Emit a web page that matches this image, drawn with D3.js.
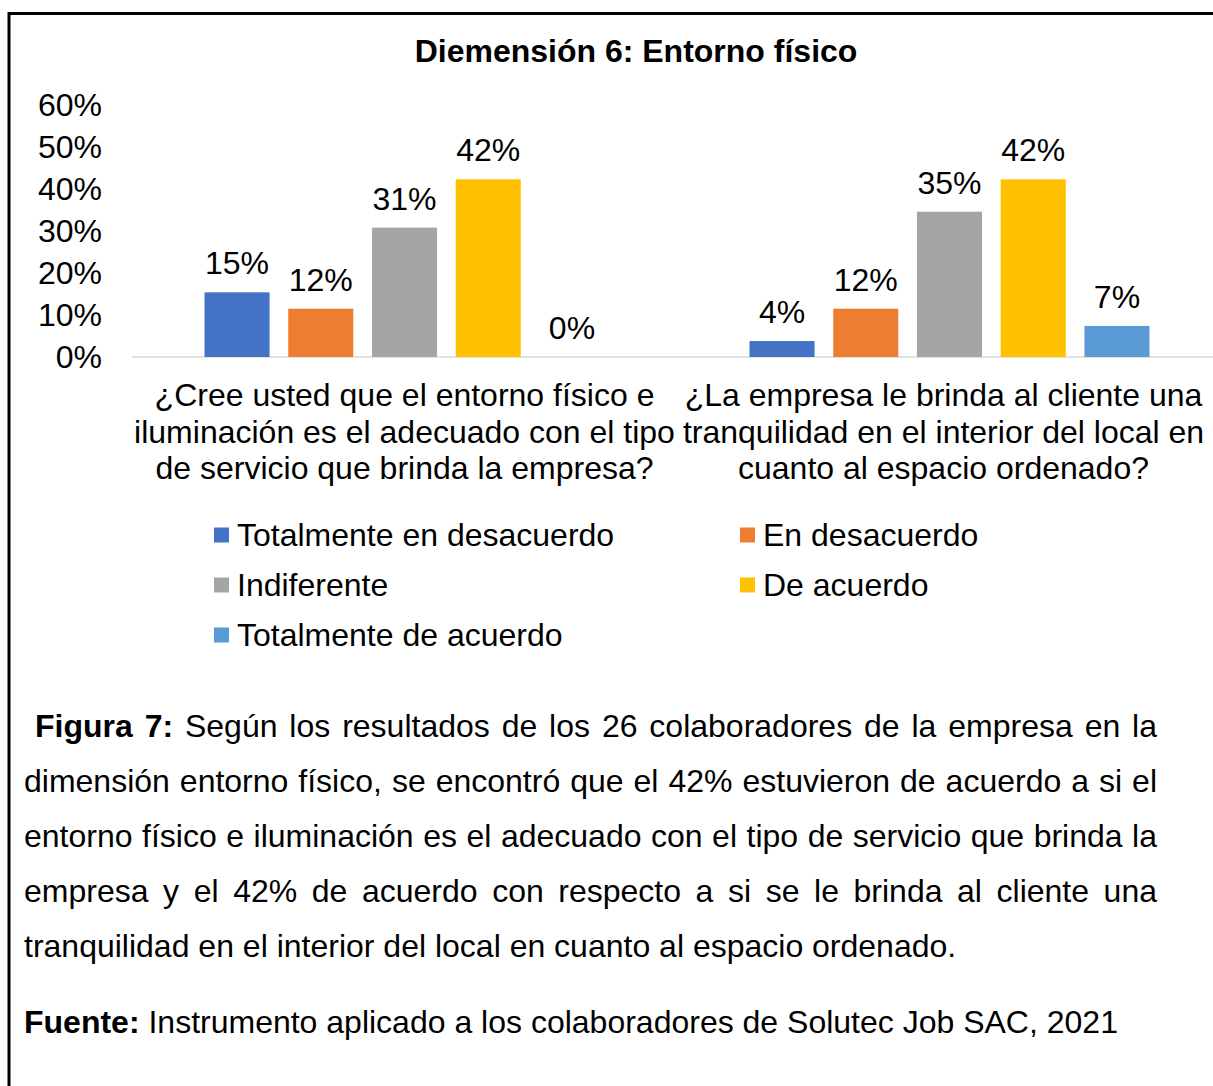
<!DOCTYPE html>
<html>
<head>
<meta charset="utf-8">
<script src="https://cdn.jsdelivr.net/npm/d3@7"></script>
<style>
  html, body { margin: 0; padding: 0; background: #fff; }
  svg { display: block; font-family: "Liberation Sans", Arial, sans-serif; }
</style>
</head>
<body>
<div id="chart"></div>
<script>
const title = 'Diemensión 6: Entorno físico'
const categories = [
  ['¿Cree usted que el entorno físico e', 'iluminación es el adecuado con el tipo', 'de servicio que brinda la empresa?'],
  ['¿La empresa le brinda al cliente una', 'tranquilidad en el interior del local en', 'cuanto al espacio ordenado?']
]
const series = ['Totalmente en desacuerdo', 'En desacuerdo', 'Indiferente', 'De acuerdo', 'Totalmente de acuerdo']
const colors = ['#4472C4', '#ED7D31', '#A5A5A5', '#FFC000', '#5B9BD5']
const q1Values = [0.154, 0.115, 0.308, 0.423, 0]
const q2Values = [0.038, 0.115, 0.346, 0.423, 0.074]
const yTicks = [0, 0.1, 0.2, 0.3, 0.4, 0.5, 0.6]
const captionLines = [
  [['Figura 7:', true], ['Según los resultados de los 26 colaboradores de la empresa en la', false]],
  [['dimensión entorno físico, se encontró que el 42% estuvieron de acuerdo a si el', false]],
  [['entorno físico e iluminación es el adecuado con el tipo de servicio que brinda la', false]],
  [['empresa y el 42% de acuerdo con respecto a si se le brinda al cliente una', false]],
  [['tranquilidad en el interior del local en cuanto al espacio ordenado.', false]]
]
const source = [['Fuente:', true], [' Instrumento aplicado a los colaboradores de Solutec Job SAC, 2021', false]]

const W = 1213, H = 1086
const fs = 32

const svg = d3.select('#chart').append('svg')
  .attr('width', W).attr('height', H)

// frame
svg.append('rect')
  .attr('x', 9).attr('y', 13.5)
  .attr('width', W + 20).attr('height', H + 20)
  .attr('fill', 'none').attr('stroke', '#000').attr('stroke-width', 3)

svg.append('text')
  .attr('x', 636).attr('y', 62)
  .attr('text-anchor', 'middle')
  .attr('font-weight', 'bold').attr('font-size', fs)
  .text(title)

const data = categories.map((c, i) => ({ cat: i, values: i === 0 ? q1Values : q2Values }))

const x0 = d3.scaleBand().domain(d3.range(categories.length)).range([132, 1222])
const x1 = d3.scaleBand().domain(d3.range(series.length))
  .range([72.5, 472.5]).paddingInner(0.223).paddingOuter(0)
const y = d3.scaleLinear().domain([0, 0.6]).range([357, 105])

// y labels
svg.append('g').selectAll('text')
  .data(yTicks).enter().append('text')
    .attr('x', 102).attr('y', d => y(d))
    .attr('dy', '0.35em')
    .attr('text-anchor', 'end').attr('font-size', fs)
    .text(d3.format('.0%'))

// baseline
svg.append('line')
  .attr('x1', 132).attr('x2', W).attr('y1', y(0)).attr('y2', y(0))
  .attr('stroke', '#d9d9d9').attr('stroke-width', 1.5)

const groups = svg.append('g').selectAll('g')
  .data(data).enter().append('g')
    .attr('transform', d => `translate(${x0(d.cat)},0)`)

groups.selectAll('rect')
  .data(d => d.values).enter().append('rect')
    .attr('x', (d, i) => x1(i))
    .attr('width', x1.bandwidth())
    .attr('y', d => y(d))
    .attr('height', d => y(0) - y(d))
    .attr('fill', (d, i) => colors[i])

groups.selectAll('text.val')
  .data(d => d.values).enter().append('text')
    .attr('class', 'val')
    .attr('x', (d, i) => x1(i) + x1.bandwidth() / 2)
    .attr('y', d => y(d) - 18)
    .attr('text-anchor', 'middle').attr('font-size', fs)
    .text(d3.format('.0%'))

// category labels
svg.append('g').selectAll('text')
  .data(categories).enter().append('text')
    .attr('text-anchor', 'middle').attr('font-size', fs)
    .each(function (lines, i) {
      d3.select(this).selectAll('tspan')
        .data(lines).enter().append('tspan')
          .attr('x', x0(i) + x0.bandwidth() / 2 - (i === 0 ? 0 : 6))
          .attr('y', (l, j) => 406 + j * 36.5)
          .text(l => l)
    })

// legend
const legend = svg.append('g').selectAll('g')
  .data(series).enter().append('g')
    .attr('transform', (d, i) => `translate(${i % 2 === 0 ? 214 : 740},${535 + Math.floor(i / 2) * 50})`)
legend.append('rect')
  .attr('x', 0).attr('y', -7.5).attr('width', 15).attr('height', 15)
  .attr('fill', (d, i) => colors[i])
legend.append('text')
  .attr('x', 23).attr('dy', '0.35em').attr('font-size', fs)
  .text(d => d)

// caption, justified lines
const capLeft = 24, capRight = 1157
captionLines.forEach((segs, li) => {
  const baseY = 737 + li * 55
  const last = li === captionLines.length - 1
  if (last) {
    const t = svg.append('text').attr('x', capLeft).attr('y', baseY).attr('font-size', fs)
    segs.forEach(s => t.append('tspan').attr('font-weight', s[1] ? 'bold' : null).text(s[0]))
    return
  }
  const words = []
  segs.forEach(s => s[0].split(' ').forEach(w => words.push([w, s[1]])))
  const left = li === 0 ? 35 : capLeft
  const nodes = words.map(w => svg.append('text')
    .attr('y', baseY).attr('font-size', fs)
    .attr('font-weight', w[1] ? 'bold' : null)
    .text(w[0]))
  const widths = nodes.map(n => n.node().getComputedTextLength())
  const gap = (capRight - left - d3.sum(widths)) / (words.length - 1)
  let xPos = left
  nodes.forEach((n, k) => { n.attr('x', xPos); xPos += widths[k] + gap })
})

const src = svg.append('text').attr('x', capLeft).attr('y', 1033).attr('font-size', fs)
source.forEach(s => src.append('tspan').attr('font-weight', s[1] ? 'bold' : null)
  .attr('xml:space', 'preserve').text(s[0]))
</script>
</body>
</html>
